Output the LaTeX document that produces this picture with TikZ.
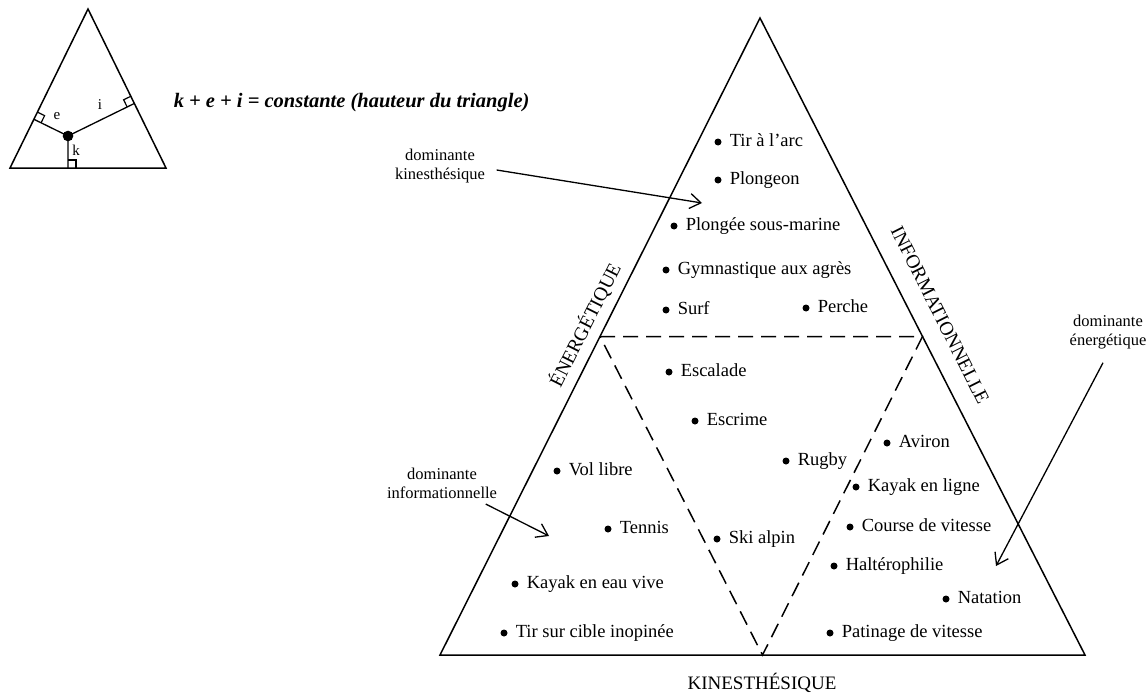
\documentclass[tikz,border=0pt]{standalone}
\usepackage{fontspec}
\setmainfont{Liberation Serif}
\usetikzlibrary{calc}
\usetikzlibrary{arrows.meta}
\usepackage{amsmath}

\tikzset{
  sport/.style={anchor=west, inner xsep=11pt, inner ysep=0pt, text height=8pt, text depth=0pt, font=\fontsize{18.5}{20}\selectfont},
  sidename/.style={inner sep=0pt, font=\fontsize{19.5}{22}\selectfont},
  note/.style={align=center, inner sep=3pt, font=\fontsize{16.5}{19}\selectfont},
  pointer/.style={line width=1.3pt, -{Straight Barb[length=11pt,width=15pt,line width=1.3pt]}},
  rightangle/.style={line width=1.2pt},
  smalllabel/.style={font=\fontsize{15}{15}\selectfont},
}

\begin{document}
\begin{tikzpicture}[x=1pt,y=-1pt,line width=1.5pt]
\useasboundingbox (0,0) rectangle (1147,693);

% small triangle: k + e + i
\coordinate (sA) at (10,168);
\coordinate (sB) at (166,168);
\coordinate (sC) at (88,9);
\coordinate (sP) at (68,136);
\coordinate (fk) at ($(sA)!(sP)!(sB)$);
\coordinate (fe) at ($(sA)!(sP)!(sC)$);
\coordinate (fi) at ($(sB)!(sP)!(sC)$);
\draw (sA) -- (sB) -- (sC) -- cycle;
\draw[line width=1.3pt] (sP) -- (fk) (sP) -- (fe) (sP) -- (fi);
\filldraw[black] (sP) circle (4.5pt);
\draw[rightangle] ($(fk)!8pt!(sB)$) -- ($($(fk)!8pt!(sB)$)+($(fk)!8pt!(sP)$)-(fk)$) -- ($(fk)!8pt!(sP)$);
\draw[rightangle] ($(fe)!8pt!(sC)$) -- ($($(fe)!8pt!(sC)$)+($(fe)!8pt!(sP)$)-(fe)$) -- ($(fe)!8pt!(sP)$);
\draw[rightangle] ($(fi)!8pt!(sC)$) -- ($($(fi)!8pt!(sC)$)+($(fi)!8pt!(sP)$)-(fi)$) -- ($(fi)!8pt!(sP)$);
\node[smalllabel] (le) at (57,116) {e};
\node[smalllabel] (li) at (100,105) {i};
\node[smalllabel] (lk) at (76,150) {k};
\node[anchor=base west, inner sep=0pt, font=\fontsize{20.5}{22}\selectfont\bfseries\itshape] (formula) at (173,107) {k + e + i = constante (hauteur du triangle)};

% big triangle
\coordinate (Ap) at (760,18);
\coordinate (BL) at (440,655);
\coordinate (BR) at (1085,655);
\coordinate (Ml) at ($(BL)!0.5!(Ap)$);
\coordinate (Mr) at ($(BR)!0.5!(Ap)$);
\coordinate (Mb) at ($(BL)!0.5!(BR)$);
\draw (BL) -- (Ap) -- (BR) -- cycle;
\node[sidename, rotate=63.3] (energ) at (585,325) {ÉNERGÉTIQUE};
\node[sidename, rotate=-63.3] (inform) at (940,315) {INFORMATIONNELLE};
\node[font=\fontsize{19}{22}\selectfont] (kines) at (762,683) {KINESTHÉSIQUE};
\draw[dash pattern=on 15pt off 8pt] (Ml) -- (Mr) -- (Mb) -- cycle;

% sports
\fill (718,142) circle (3.5pt) node[sport] (tirarc) {Tir à l'arc};
\fill (718,180) circle (3.5pt) node[sport] (plongeon) {Plongeon};
\fill (674,226) circle (3.5pt) node[sport] (plongee) {Plongée sous-marine};
\fill (666,270) circle (3.5pt) node[sport] (gym) {Gymnastique aux agrès};
\fill (666,310) circle (3.5pt) node[sport] (surf) {Surf};
\fill (806,308) circle (3.5pt) node[sport] (perche) {Perche};
\fill (669,372) circle (3.5pt) node[sport] (escalade) {Escalade};
\fill (695,421) circle (3.5pt) node[sport] (escrime) {Escrime};
\fill (786,461) circle (3.5pt) node[sport] (rugby) {Rugby};
\fill (717,539) circle (3.5pt) node[sport] (ski) {Ski alpin};
\fill (557,471) circle (3.5pt) node[sport] (vol) {Vol libre};
\fill (608,529) circle (3.5pt) node[sport] (tennis) {Tennis};
\fill (515,584) circle (3.5pt) node[sport] (kayakvive) {Kayak en eau vive};
\fill (504,633) circle (3.5pt) node[sport] (tircible) {Tir sur cible inopinée};
\fill (887,443) circle (3.5pt) node[sport] (aviron) {Aviron};
\fill (856,487) circle (3.5pt) node[sport] (kayakligne) {Kayak en ligne};
\fill (850,527) circle (3.5pt) node[sport] (course) {Course de vitesse};
\fill (834,566) circle (3.5pt) node[sport] (halte) {Haltérophilie};
\fill (946,599) circle (3.5pt) node[sport] (natation) {Natation};
\fill (830,633) circle (3.5pt) node[sport] (patinage) {Patinage de vitesse};

% dominantes
\node[note] (domkin) at (440,166) {dominante\\kinesthésique};
\node[note] (dominf) at (442,483) {dominante\\informationnelle};
\node[note] (domen) at (1108,332) {dominante\\énergétique};
\coordinate (kintip) at (702,203);
\coordinate (inftip) at (549,536);
\coordinate (entip) at (996,566);
\draw[pointer] ($(domkin.east)+(8,4)$) -- (kintip);
\draw[pointer] ($(dominf.south east)+(-15,2)$) -- (inftip);
\draw[pointer] ($(domen.south)+(-5,10)$) -- (entip);

\end{tikzpicture}
\end{document}
